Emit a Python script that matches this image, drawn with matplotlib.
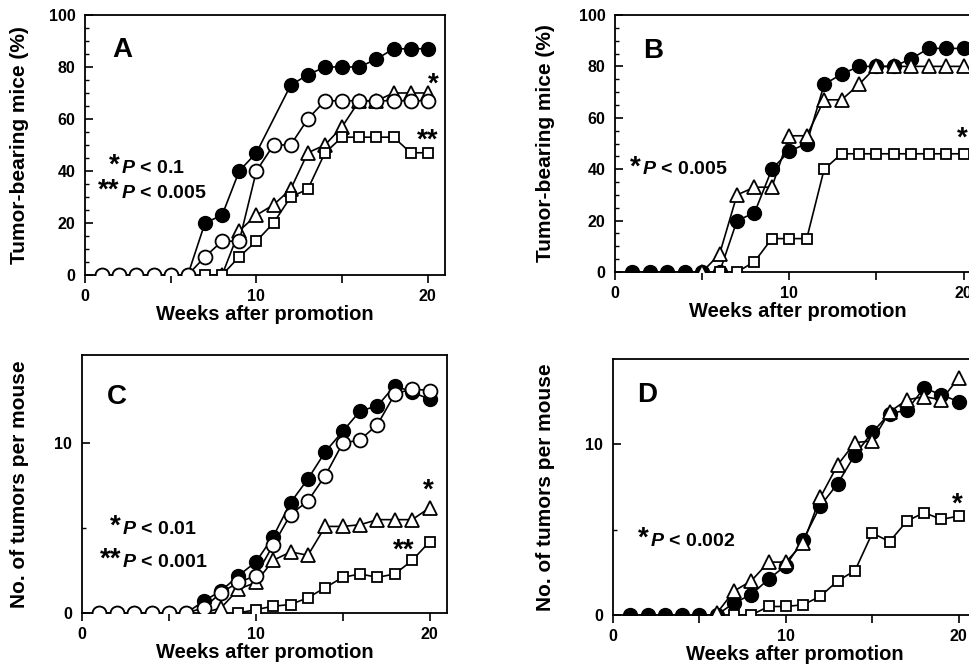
import matplotlib
matplotlib.use("Agg")
import matplotlib.pyplot as plt
from matplotlib.ticker import FixedLocator

plt.rcParams['font.family'] = ['Liberation Sans', 'DejaVu Sans']
plt.rcParams['font.weight'] = 'bold'
plt.rcParams['mathtext.fontset'] = 'custom'
plt.rcParams['mathtext.it'] = 'Liberation Sans:italic:bold'
plt.rcParams['mathtext.rm'] = 'Liberation Sans:bold'

weeks = list(range(1, 21))

# ---- panel A : tumor-bearing mice (%) ----
a_fill_x = [1, 2, 3, 4, 5, 6, 7, 8, 9, 10, 12, 13, 14, 15, 16, 17, 18, 19, 20]
a_fill_y = [0, 0, 0, 0, 0, 0, 20, 23, 40, 47, 73, 77, 80, 80, 80, 83, 87, 87, 87]
a_open_x = weeks
a_open_y = [0, 0, 0, 0, 0, 0, 7, 13, 13, 40, 50, 50, 60, 67, 67, 67, 67, 67, 67, 67]
a_tri_x = list(range(8, 21))
a_tri_y = [0, 17, 23, 27, 33, 47, 50, 57, 67, 67, 70, 70, 70]
a_sq_x = list(range(7, 21))
a_sq_y = [0, 0, 7, 13, 20, 30, 33, 47, 53, 53, 53, 53, 47, 47]

# ---- panel B : tumor-bearing mice (%) ----
b_fill_x = weeks
b_fill_y = [0, 0, 0, 0, 0, 0, 20, 23, 40, 47, 50, 73, 77, 80, 80, 80, 83, 87, 87, 87]
b_tri_x = list(range(5, 21))
b_tri_y = [0, 7, 30, 33, 33, 53, 53, 67, 67, 73, 80, 80, 80, 80, 80, 80]
b_sq_x = list(range(6, 21))
b_sq_y = [0, 0, 4, 13, 13, 13, 40, 46, 46, 46, 46, 46, 46, 46, 46]

# ---- panel C : tumors per mouse ----
c_fill_x = weeks
c_fill_y = [0, 0, 0, 0, 0, 0, 0.7, 1.3, 2.2, 3.0, 4.5, 6.5, 7.9, 9.5, 10.7, 11.9, 12.2, 13.4, 13.0, 12.6]
c_open_x = weeks
c_open_y = [0, 0, 0, 0, 0, 0, 0.3, 1.2, 1.8, 2.2, 4.0, 5.8, 6.6, 8.1, 10.0, 10.2, 11.1, 12.9, 13.2, 13.1]
c_tri_x = list(range(7, 21))
c_tri_y = [0, 0.3, 1.4, 1.8, 3.1, 3.6, 3.4, 5.1, 5.1, 5.2, 5.5, 5.5, 5.5, 6.2]
c_sq_x = list(range(9, 21))
c_sq_y = [0, 0.2, 0.4, 0.5, 0.9, 1.5, 2.1, 2.3, 2.1, 2.3, 3.1, 4.2]

# ---- panel D : tumors per mouse ----
d_fill_x = weeks
d_fill_y = [0, 0, 0, 0, 0, 0, 0.7, 1.2, 2.1, 2.9, 4.4, 6.4, 7.7, 9.4, 10.7, 11.8, 12.0, 13.3, 12.9, 12.5]
d_tri_x = list(range(6, 21))
d_tri_y = [0.1, 1.4, 2.0, 3.1, 3.1, 4.2, 6.9, 8.8, 10.1, 10.2, 11.9, 12.6, 12.8, 12.6, 13.9]
d_sq_x = list(range(7, 21))
d_sq_y = [0, 0, 0.5, 0.5, 0.6, 1.1, 2.0, 2.6, 4.8, 4.3, 5.5, 6.0, 5.6, 5.8]

fig = plt.figure(figsize=(9.69, 6.69), dpi=100)

axA = fig.add_axes([0.0877, 0.589, 0.3715, 0.3886])
axB = fig.add_axes([0.6347, 0.5934, 0.3777, 0.3842])
axC = fig.add_axes([0.0846, 0.0837, 0.3767, 0.3857])
axD = fig.add_axes([0.6326, 0.0807, 0.3746, 0.3827])

STAR = 20


def filled(ax, x, y):
    ax.plot(x, y, '-o', color='k', lw=1.2, ms=10, mfc='k', mec='k', zorder=2)


def opened(ax, x, y):
    ax.plot(x, y, '-o', color='k', lw=1.2, ms=10, mfc='white', mec='k', mew=1.3, zorder=5)


def tri(ax, x, y):
    ax.plot(x, y, '-^', color='k', lw=1.2, ms=9.5, mfc='white', mec='k', mew=1.3, zorder=3)


def sq(ax, x, y):
    ax.plot(x, y, '-s', color='k', lw=1.2, ms=7, mfc='white', mec='k', mew=1.3, zorder=4)


def style(ax, ymax, ymajor, yminor, ylabel, labx):
    ax.set_xlim(0, 21)
    ax.set_ylim(0, ymax)
    ax.set_xticks([0, 10, 20])
    ax.xaxis.set_minor_locator(FixedLocator([5, 15]))
    ax.set_yticks(ymajor)
    ax.yaxis.set_minor_locator(FixedLocator(yminor))
    ax.tick_params(axis='x', which='both', direction='out', length=6, width=1.2,
                   labelsize=11.5, pad=4)
    ax.tick_params(axis='y', which='major', direction='in', length=6, width=1.2,
                   labelsize=11.5, pad=7)
    ax.tick_params(axis='y', which='minor', direction='in', length=3, width=1.0)
    for s in ax.spines.values():
        s.set_linewidth(1.3)
    ax.set_xlabel('Weeks after promotion', fontsize=14.5, fontweight='bold', labelpad=1)
    ax.set_ylabel(ylabel, fontsize=15, fontweight='bold')
    ax.yaxis.set_label_coords(labx, 0.5)


def pnote(ax, x, y, stars, rest):
    ax.annotate(stars, (x, y), xytext=(0, 2), textcoords='offset points',
                ha='right', va='center', fontsize=STAR, fontweight='bold')
    ax.annotate(r'$\mathit{P}$' + rest, (x, y), xytext=(1, 0), textcoords='offset points',
                ha='left', va='center', fontsize=14, fontweight='bold')


def star(ax, x, y, s):
    ax.annotate(s, (x, y), xytext=(0, -5), textcoords='offset points',
                ha='center', va='center', fontsize=STAR, fontweight='bold')


# panel A
filled(axA, a_fill_x, a_fill_y)
tri(axA, a_tri_x, a_tri_y)
sq(axA, a_sq_x, a_sq_y)
opened(axA, a_open_x, a_open_y)
style(axA, 100, [0, 20, 40, 60, 80, 100], [5, 10, 15, 25, 30, 35, 45, 50, 55, 65, 70, 75, 85, 90, 95],
      'Tumor-bearing mice (%)', -0.155)
axA.text(2.2, 86.5, 'A', fontsize=20, fontweight='bold', ha='center', va='center')
pnote(axA, 2.0, 41, '*', ' < 0.1')
pnote(axA, 2.0, 31.5, '**', ' < 0.005')
star(axA, 20.3, 76, '*')
star(axA, 20.0, 54.5, '**')

# panel B
filled(axB, b_fill_x, b_fill_y)
tri(axB, b_tri_x, b_tri_y)
sq(axB, b_sq_x, b_sq_y)
style(axB, 100, [0, 20, 40, 60, 80, 100], [5, 10, 15, 25, 30, 35, 45, 50, 55, 65, 70, 75, 85, 90, 95],
      'Tumor-bearing mice (%)', -0.165)
axB.text(2.2, 86, 'B', fontsize=20, fontweight='bold', ha='center', va='center')
pnote(axB, 1.45, 39.7, '*', ' < 0.005')
star(axB, 19.9, 54.5, '*')

# panel C
filled(axC, c_fill_x, c_fill_y)
tri(axC, c_tri_x, c_tri_y)
sq(axC, c_sq_x, c_sq_y)
opened(axC, c_open_x, c_open_y)
style(axC, 15.2, [0, 10], [5], 'No. of tumors per mouse', -0.145)
axC.text(2.0, 12.7, 'C', fontsize=20, fontweight='bold', ha='center', va='center')
pnote(axC, 2.25, 4.9, '*', ' < 0.01')
pnote(axC, 2.25, 3.0, '**', ' < 0.001')
star(axC, 19.9, 7.6, '*')
star(axC, 18.5, 4.1, '**')

# panel D
filled(axD, d_fill_x, d_fill_y)
tri(axD, d_tri_x, d_tri_y)
sq(axD, d_sq_x, d_sq_y)
style(axD, 15, [0, 10], [5], 'No. of tumors per mouse', -0.16)
axD.text(2.0, 12.9, 'D', fontsize=20, fontweight='bold', ha='center', va='center')
pnote(axD, 2.05, 4.3, '*', ' < 0.002')
star(axD, 19.9, 6.9, '*')

fig.savefig('out.png', dpi=100)
